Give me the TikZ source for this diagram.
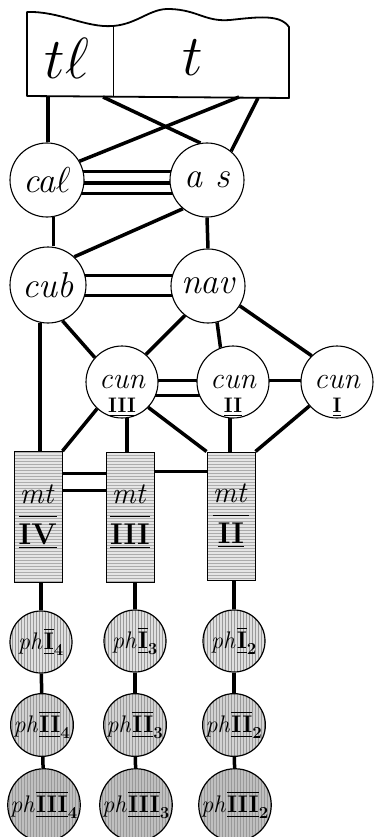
\RequirePackage{fix-cm}
\documentclass[tikz,border=0pt]{standalone}
\usepackage{amsmath}
\usetikzlibrary{patterns,backgrounds}

\tikzset{
  link/.style={line width=3.5pt},
  thinlink/.style={line width=3pt},
  roundnode/.style={circle, draw, line width=1.1pt, fill=white, minimum size=74pt, inner sep=0pt,
    font=\fontsize{36}{36}\selectfont\itshape},
  cunnode/.style={roundnode, minimum size=72pt, font=\fontsize{30}{30}\selectfont\itshape},
  mtbox/.style={rectangle, draw, line width=1pt, minimum width=48pt, minimum height=130pt, inner sep=0pt,
    preaction={fill=gray!20}, pattern=horizontal lines, pattern color=gray!65,
    font=\fontsize{30}{30}\selectfont},
  phnode/.style={circle, draw, line width=1.2pt, minimum size=62pt, inner sep=0pt,
    preaction={fill=gray!#1}, pattern=vertical lines, pattern color=gray!80,
    font=\fontsize{24}{24}\selectfont},
}

\newcommand{\cunlab}[1]{$\smash[b]{\underset{\rule{0pt}{19pt}\underline{\mathbf{#1}}}{\mbox{cun}}}$}
\newcommand{\mtlab}[1]{$\dfrac{\mathit{mt}}{\underline{\mathbf{#1}}}$}
\newcommand{\phlab}[2]{$\mathit{ph}\overline{\underline{\mathbf{#1}}}_{\mathbf{#2}}$}

\begin{document}
\begin{tikzpicture}[x=1pt,y=-1pt]
  \useasboundingbox (0,0) rectangle (374,837);

  % Caja superior con borde ondulado
  \draw[line width=1.8pt, line join=round] (27,96) -- (27,12)
    .. controls (60,11) and (85,28) .. (113,26)
    .. controls (138,24) and (150,8) .. (170,9)
    .. controls (198,10) and (205,22) .. (230,20)
    .. controls (258,17) and (280,14) .. (289,27)
    -- (289,98) -- cycle;
  \draw[line width=0.8pt] (113,26) -- (113,97);
  \node[font=\fontsize{58}{58}\selectfont] (tl) at (67,58) {$t\ell$};
  \node[font=\fontsize{58}{58}\selectfont] (t) at (193,58) {$t$};
  \coordinate (tlfoot) at (48,97);
  \coordinate (tfootA) at (103,97);
  \coordinate (tfootB) at (239,97);
  \coordinate (tfootC) at (258,98);

  % Círculos
  \node[roundnode] (cal) at (47,180) {ca$\ell$};
  \node[roundnode] (as) at (207,180) {a s};
  \node[roundnode, minimum size=76pt] (cub) at (48,285) {cub};
  \node[roundnode] (nav) at (208,286) {nav};
  \node[cunnode] (cun3) at (122,382) {\cunlab{III}};
  \node[cunnode] (cun2) at (233,382) {\cunlab{II}};
  \node[cunnode] (cun1) at (337,382) {\cunlab{I}};

  % Bloques mt
  \node[mtbox, minimum height=131pt] (mt4) at (38,517) {\mtlab{IV}};
  \node[mtbox] (mt3) at (130,517) {\mtlab{III}};
  \node[mtbox, minimum height=128pt] (mt2) at (231,516) {\mtlab{II}};

  % Círculos ph
  \node[phnode=25] (ph14) at (41,642) {\phlab{I}{4}};
  \node[phnode=25] (ph13) at (135,641) {\phlab{I}{3}};
  \node[phnode=25] (ph12) at (234,641) {\phlab{I}{2}};
  \node[phnode=35] (ph24) at (42,725) {\phlab{II}{4}};
  \node[phnode=35] (ph23) at (135,725) {\phlab{II}{3}};
  \node[phnode=35] (ph22) at (234,725) {\phlab{II}{2}};
  \node[phnode=50] (ph34) at (44,805) {\phlab{III}{4}};
  \node[phnode=50] (ph33) at (136,805) {\phlab{III}{3}};
  \node[phnode=50] (ph32) at (235,805) {\phlab{III}{2}};

  \begin{scope}[on background layer]
    % Líneas desde la caja
    \draw[link] (tlfoot) -- (tlfoot |- cal.north);
    \draw[link] (tfootA) -- (as.100);
    \draw[link] (tfootB) -- (cal.30);
    \draw[link] (tfootC) -- (as.50);

    % cal -- as (triple) y cub -- nav (doble)
    \foreach \s in {8,-3,-13}
      \draw[thinlink] ([yshift=\s pt]cal.center) -- ([yshift=\s pt]as.center);
    \foreach \s in {10,-10}
      \draw[thinlink] ([yshift=\s pt]cub.center) -- ([yshift=\s pt]cub.center -| nav.center);
    \draw[link] (cal.-80) -- (cal.-80 |- cub.north);
    \draw[link] (as.230) -- (cub.47);
    \draw[link] (as.south) -- (nav.north);

    % Hacia los cun
    \draw[link] (cub.-68) -- (cun3.138);
    \draw[link] (nav.232) -- (cun3.49);
    \draw[link] (nav.-76) -- (cun2.110);
    \draw[link] (nav.-32) -- (cun1.134);
    \foreach \s in {2,-13}
      \draw[thinlink] ([yshift=\s pt]cun3.center) -- ([yshift=\s pt]cun3.center -| cun2.center);
    \draw[thinlink] ([yshift=2pt]cun2.center) -- ([yshift=2pt]cun2.center -| cun1.center);

    % Hacia los mt
    \draw[link] (cub.-102) -- (cub.-102 |- mt4.north);
    \draw[link] (cun3.-133) -- (mt4.north east);
    \draw[link] (cun3.-82) -- (cun3.-82 |- mt3.north);
    \draw[link] (cun3.-44) -- (mt2.north west);
    \draw[link] (cun2.-95) -- (cun2.-95 |- mt2.north);
    \draw[link] (cun1.-139) -- (mt2.north east);
    \foreach \s in {44,27}
      \draw[thinlink] ([yshift=\s pt]mt4.east) -- ([yshift=\s pt]mt4.east -| mt3.west);
    \draw[thinlink] ([yshift=46pt]mt3.east) -- ([yshift=46pt]mt3.east -| mt2.west);

    % Columnas ph
    \draw[link] (ph14.north) -- (ph14.north |- mt4.south);
    \draw[link] (ph13.north) -- (ph13.north |- mt3.south);
    \draw[link] (ph12.north) -- (ph12.north |- mt2.south);
    \draw[link] (ph14) -- (ph24);
    \draw[link] (ph24) -- (ph34);
    \draw[link] (ph13) -- (ph23);
    \draw[link] (ph23) -- (ph33);
    \draw[link] (ph12) -- (ph22);
    \draw[link] (ph22) -- (ph32);
  \end{scope}
\end{tikzpicture}
\end{document}
